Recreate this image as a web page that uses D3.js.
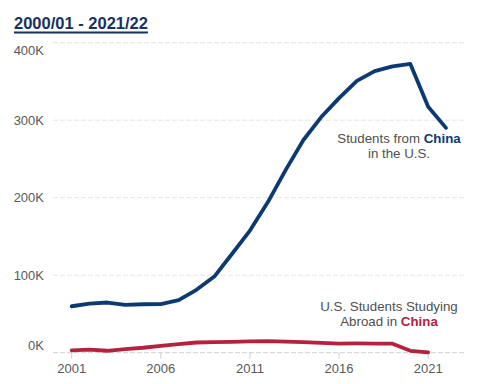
<!DOCTYPE html>
<html>
<head>
<meta charset="utf-8">
<script src="https://cdn.jsdelivr.net/npm/d3@7"></script>
<style>
  body { margin: 0; background: #fff; }
  text { font-family: "Liberation Sans", Arial, sans-serif; }
</style>
</head>
<body>
<div id="chart"></div>
<script>
// data (academic year ending in the year shown)
var years = d3.range(2001, 2023);
var chinaInUS = [59939, 63211, 64757, 61765, 62523, 62582, 67723, 81127, 98235, 127628, 157558,
                 194029, 235597, 274439, 304040, 328547, 350755, 363341, 369548, 372532, 317299, 290086];
var usInChina = [2942, 3911, 2493, 4737, 6389, 8830, 11064, 13165, 13674, 13910, 14596,
                 14887, 14413, 13763, 12790, 11688, 11910, 11639, 11613, 2481, 382];
var yTicks = [0, 100000, 200000, 300000, 400000];
var xTicks = [2001, 2006, 2011, 2016, 2021];

var width = 488;
var height = 384;

var svg = d3.select('#chart')
    .append('svg')
    .attr('width', width)
    .attr('height', height);

var x = d3.scaleLinear()
    .domain([2001, 2022])
    .range([71.7, 446]);

var y = d3.scaleLinear()
    .domain([0, 400000])
    .range([352.7, 42.7]);

// title
var title = svg.append('text')
    .attr('x', 14)
    .attr('y', 29)
    .attr('font-size', 16.5)
    .attr('font-weight', 'bold')
    .attr('fill', '#17325f')
    .text('2000/01 - 2021/22');
var tw = title.node().getComputedTextLength();
svg.append('line')
    .attr('x1', 14).attr('x2', 14 + tw)
    .attr('y1', 32.5).attr('y2', 32.5)
    .attr('stroke', '#17325f')
    .attr('stroke-width', 2);

// grid lines
svg.append('g')
    .selectAll('line')
    .data(yTicks)
    .enter()
    .append('line')
    .attr('x1', 53)
    .attr('x2', 465)
    .attr('y1', (d) => y(d))
    .attr('y2', (d) => y(d))
    .attr('stroke', (d) => d == 0 ? '#cfcfcf' : '#e4e4e4')
    .attr('stroke-width', 1)
    .attr('stroke-dasharray', '5,2');

// y labels (top and bottom ones sit inside the plot)
svg.append('g')
    .selectAll('text')
    .data(yTicks)
    .enter()
    .append('text')
    .attr('x', 44)
    .attr('y', function (d) {
        var off = 0;
        if (d == 0) off = -7.5;
        if (d == 400000) off = 7.5;
        return y(d) + 4.5 + off;
    })
    .attr('text-anchor', 'end')
    .attr('font-size', 13)
    .attr('fill', '#595959')
    .text((d) => (d / 1000) + 'K');

// x ticks + labels
var xg = svg.append('g');
xg.selectAll('line')
    .data(xTicks)
    .enter()
    .append('line')
    .attr('x1', (d) => x(d))
    .attr('x2', (d) => x(d))
    .attr('y1', y(0))
    .attr('y2', y(0) + 6)
    .attr('stroke', '#cfcfcf');
xg.selectAll('text')
    .data(xTicks)
    .enter()
    .append('text')
    .attr('x', (d) => x(d))
    .attr('y', 373)
    .attr('text-anchor', 'middle')
    .attr('font-size', 13)
    .attr('fill', '#595959')
    .text((d) => d);

var line = d3.line()
    .x((d, i) => x(years[i]))
    .y((d) => y(d));

svg.append('path')
    .attr('d', line(usInChina))
    .attr('fill', 'none')
    .attr('stroke', '#b5223d')
    .attr('stroke-width', 3.8)
    .attr('stroke-linejoin', 'round')
    .attr('stroke-linecap', 'round');

svg.append('path')
    .attr('d', line(chinaInUS))
    .attr('fill', 'none')
    .attr('stroke', '#0b3a73')
    .attr('stroke-width', 3.8)
    .attr('stroke-linejoin', 'round')
    .attr('stroke-linecap', 'round');

// annotations
function note(cx, cy, lines, bold, color) {
    var t = svg.append('text')
        .attr('text-anchor', 'middle')
        .attr('font-size', 13.3)
        .attr('fill', '#4f4f4f');
    lines.forEach(function (l, i) {
        t.append('tspan')
            .attr('x', cx)
            .attr('y', cy + i * 15)
            .text(l);
        if (i == bold.line) {
            t.append('tspan')
                .attr('font-weight', 'bold')
                .attr('fill', color)
                .text(bold.word);
        }
    });
}
note(399, 143, ['Students from ', 'in the U.S.'], {line: 0, word: 'China'}, '#0b3a73');
note(389, 311, ['U.S. Students Studying', 'Abroad in '], {line: 1, word: 'China'}, '#b5223d');
</script>
</body>
</html>
